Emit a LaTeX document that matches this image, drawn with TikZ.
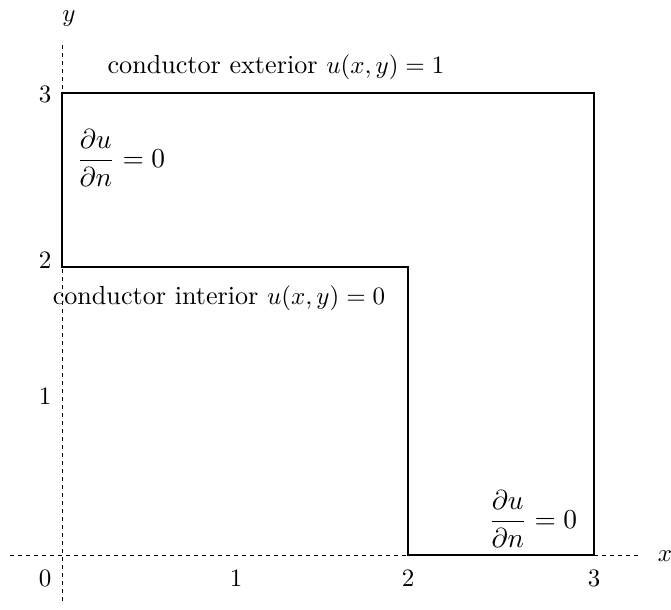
\documentclass[tikz,border=0pt]{standalone}
\begin{document}
\begin{tikzpicture}[x=0.4pt,y=-0.4pt,
  axis/.style={dashed,dash pattern=on 1.6pt off 1.6pt,line width=0.4pt},
  wall/.style={line width=0.45pt},
  lbl/.style={inner sep=0pt,font=\fontsize{10.45pt}{12.5pt}\selectfont},
  frac/.style={lbl,anchor=west,font=\fontsize{10.9pt}{13pt}\selectfont}]
\useasboundingbox (0,0) rectangle (671,609);
% axes
\coordinate (xs) at (10,555);
\coordinate (xe) at (642,555);
\coordinate (ys) at (62,45);
\coordinate (ye) at (62,605);
\draw[axis] (xs) -- (xe);
\draw[axis] (ys) -- (ye);
% boundary
\coordinate (A) at (62,93);
\coordinate (B) at (594,93);
\coordinate (C) at (594,555);
\coordinate (D) at (408,555);
\coordinate (E) at (408,267);
\coordinate (F) at (62,267);
\draw[wall] (A) -- (B) -- (C) -- (D) -- (E) -- (F) -- cycle;
% labels
\node[lbl] (ylab) at (69,19) {$y$};
\node[lbl] (xlab) at (665,556) {$x$};
\node[lbl] (y3) at (45,94) {$3$};
\node[lbl] (y2) at (45,260) {$2$};
\node[lbl] (y1) at (45,396) {$1$};
\node[lbl] (y0) at (45,578) {$0$};
\node[lbl] (x1) at (236,578) {$1$};
\node[lbl] (x2) at (408,578) {$2$};
\node[lbl] (x3) at (594,578) {$3$};
\node[lbl] (ext) at (276,67) {conductor exterior $u(x,y)=1$};
\node[lbl] (int) at (219,298) {conductor interior $u(x,y)=0$};
\node[frac] (n1) at (76,158) {$\displaystyle\frac{\partial u}{\partial n}=0$};
\node[frac] (n2) at (488,519) {$\displaystyle\frac{\partial u}{\partial n}=0$};
\end{tikzpicture}
\end{document}
